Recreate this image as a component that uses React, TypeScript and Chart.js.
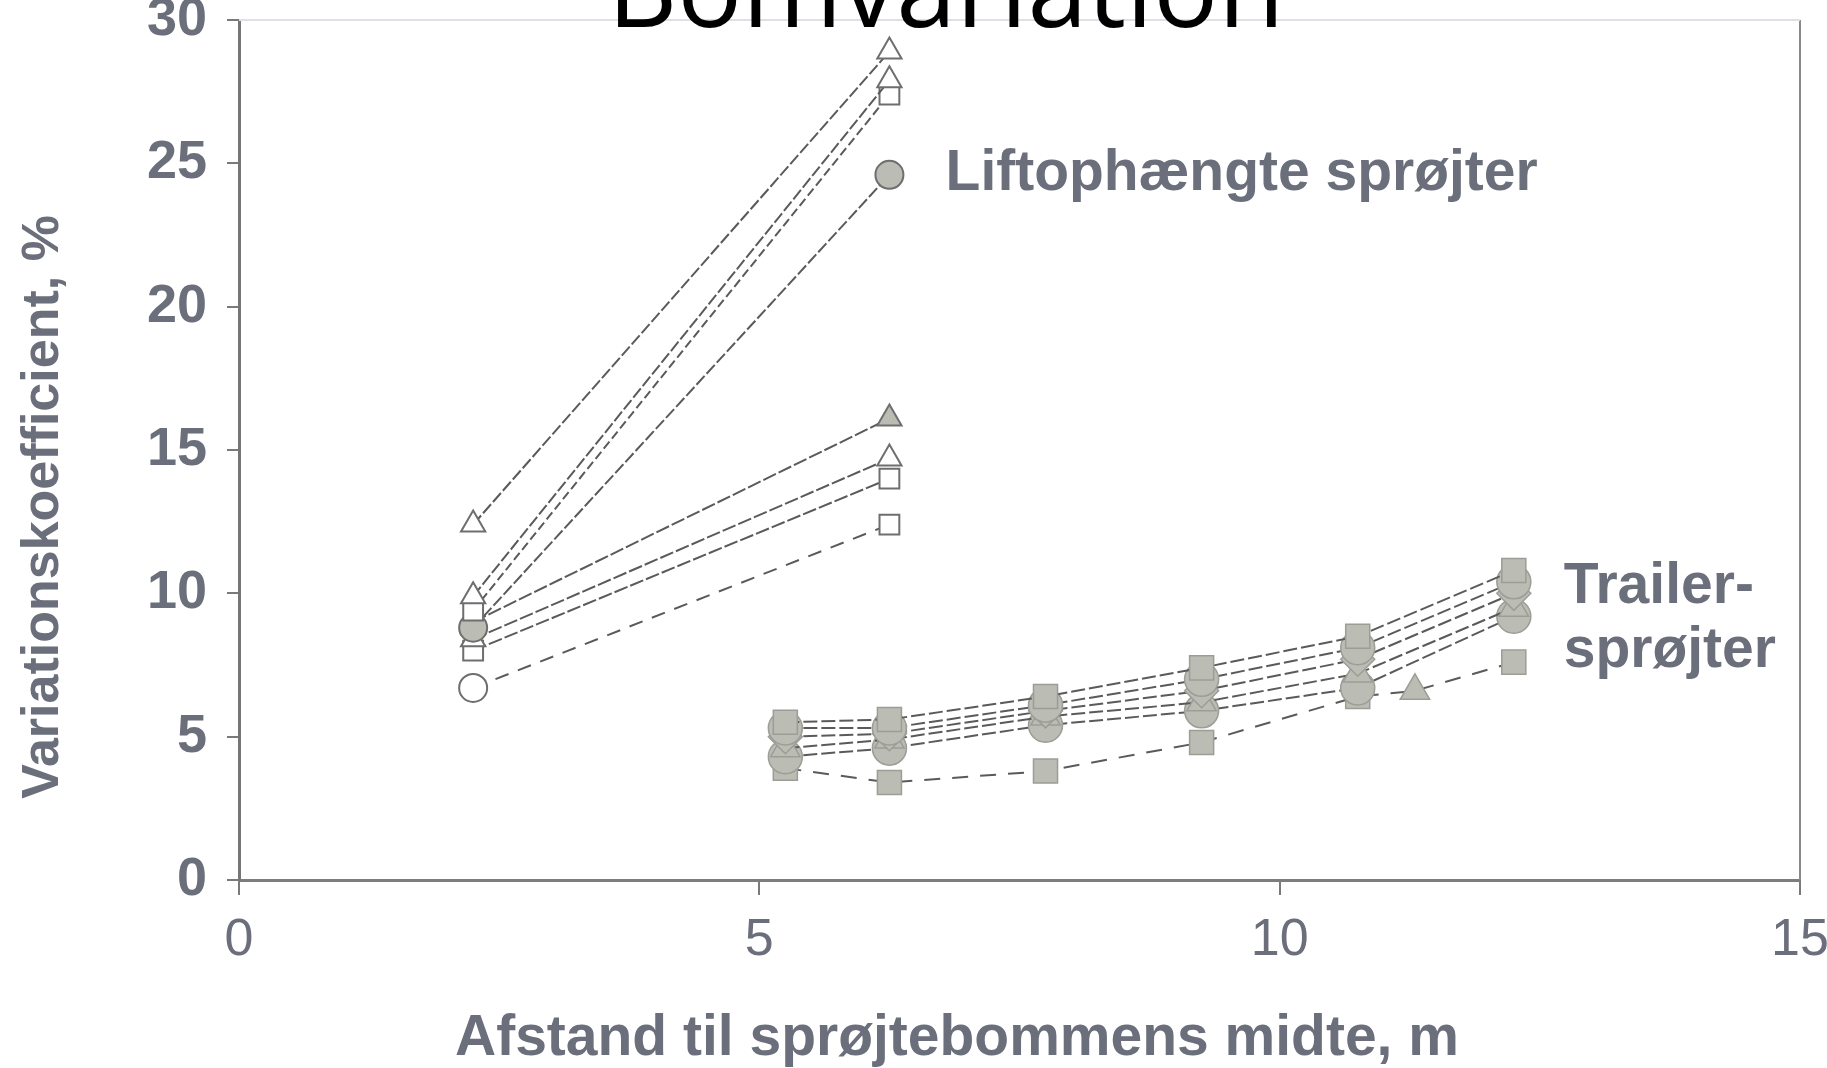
import React, { useEffect, useRef } from "react";
import { Chart, registerables } from "chart.js";

Chart.register(...registerables);

// ---- text ----
const TITLE = "Bomvariation";
const X_TITLE = "Afstand til sprøjtebommens midte, m";
const Y_TITLE = "Variationskoefficient, %";
const LIFT_LABEL = "Liftophængte sprøjter";
const TRAILER_LABEL = ["Trailer-", "sprøjter"];

// ---- axes ----
const xTicks = [0, 5, 10, 15];
const yTicks = [0, 5, 10, 15, 20, 25, 30];

// ---- lift-mounted sprayers (two positions each) ----
const liftX = [2.25, 6.25];
const liftA = [12.4, 28.9];
const liftB = [9.9, 27.9];
const liftC = [9.4, 27.4];
const liftD = [8.8, 24.6];
const liftE = [9.0, 16.1];
const liftF = [8.4, 14.7];
const liftG = [8.0, 14.0];
const liftH = [6.7, 12.4];

// ---- trailer sprayers ----
const trailerX = [5.25, 6.25, 7.75, 9.25, 10.75, 12.25];
const trailer1 = [5.5, 5.6, 6.4, 7.4, 8.5, 10.8];
const trailer2 = [5.3, 5.3, 6.1, 7.0, 8.1, 10.4];
const trailer3 = [5.0, 5.1, 5.9, 6.6, 7.7, 10.0];
const trailer4 = [4.6, 4.9, 5.7, 6.2, 7.2, 9.5];
const trailer5 = [4.3, 4.6, 5.4, 5.9, 6.7, 9.2];
const trailerLowX = [5.25, 6.25, 7.75, 9.25, 10.75, 11.3, 12.25];
const trailerLow = [3.9, 3.4, 3.8, 4.8, 6.4, 6.6, 7.6];

// ---- label anchors (data units) ----
const liftLabelAt = { x: 6.79, y: 24.07 };
const trailerLabelAt = { x: 12.73, y1: 9.66, y2: 7.43 };

const TEXT_GRAY = "#6b6f7b";
const LINE_GRAY = "#5a5a5a";
const FILL_GRAY = "#bbbcb4";

function pts(xs: number[], ys: number[]) {
  return xs.map((x, i) => ({ x, y: ys[i] }));
}

function liftSet(ys: number[], style: any, filled: boolean, dash: number[]) {
  return {
    data: pts(liftX, ys),
    borderColor: LINE_GRAY,
    borderWidth: 2,
    borderDash: dash,
    pointStyle: style,
    pointRadius: 14,
    pointBorderWidth: 2,
    pointBorderColor: "#6e6e6e",
    pointBackgroundColor: filled ? FILL_GRAY : "#ffffff",
    fill: false,
    tension: 0,
  };
}

function trailerSet(xs: number[], ys: number[], style: any, dash: number[]) {
  return {
    data: pts(xs, ys),
    borderColor: LINE_GRAY,
    borderWidth: 2,
    borderDash: dash,
    pointStyle: style,
    pointRadius: 17,
    pointBorderWidth: 1.5,
    pointBorderColor: "#9c9d97",
    pointBackgroundColor: FILL_GRAY,
    fill: false,
    tension: 0,
  };
}

const overlay = {
  id: "overlay",
  afterDraw(chart: any) {
    const { ctx, chartArea, scales } = chart;
    const xs = scales.x;
    const ys = scales.y;
    ctx.save();
    // frame remnants
    ctx.strokeStyle = "#8a8a8a";
    ctx.lineWidth = 2;
    ctx.beginPath();
    ctx.moveTo(chartArea.right, chartArea.top);
    ctx.lineTo(chartArea.right, chartArea.bottom);
    ctx.stroke();
    ctx.strokeStyle = "#dde1e7";
    ctx.lineWidth = 2;
    ctx.beginPath();
    ctx.moveTo(chartArea.left, chartArea.top);
    ctx.lineTo(chartArea.right, chartArea.top);
    ctx.stroke();

    // title (cut at top)
    ctx.fillStyle = "#000000";
    ctx.font = "108px 'Open Sans'";
    ctx.textAlign = "center";
    ctx.textBaseline = "alphabetic";
    ctx.fillText(TITLE, 946, 27);

    ctx.fillStyle = TEXT_GRAY;
    // in-plot labels
    ctx.font = "bold 57px 'Liberation Sans'";
    ctx.textAlign = "left";
    ctx.fillText(LIFT_LABEL, xs.getPixelForValue(liftLabelAt.x), ys.getPixelForValue(liftLabelAt.y));
    ctx.fillText(TRAILER_LABEL[0], xs.getPixelForValue(trailerLabelAt.x), ys.getPixelForValue(trailerLabelAt.y1));
    ctx.fillText(TRAILER_LABEL[1], xs.getPixelForValue(trailerLabelAt.x), ys.getPixelForValue(trailerLabelAt.y2));

    // axis titles
    ctx.font = "bold 57px 'Liberation Sans'";
    ctx.textAlign = "center";
    ctx.fillText(X_TITLE, 957, 1055);
    ctx.font = "bold 52px 'Liberation Sans'";
    ctx.translate(58, 507);
    ctx.rotate(-Math.PI / 2);
    ctx.textBaseline = "alphabetic";
    ctx.fillText(Y_TITLE, 0, 0);
    ctx.restore();
  },
};

export default function App() {
  const ref = useRef<HTMLCanvasElement | null>(null);
  useEffect(() => {
    if (!ref.current) return;
    const chart = new Chart(ref.current, {
      type: "line",
      data: {
        datasets: [
          liftSet(liftA, "triangle", false, [12, 3]),
          liftSet(liftB, "triangle", false, [12, 3]),
          liftSet(liftC, "rect", false, [9, 4]),
          liftSet(liftD, "circle", true, [12, 3]),
          liftSet(liftE, "triangle", true, [14, 3]),
          liftSet(liftF, "triangle", false, [14, 3]),
          liftSet(liftG, "rect", false, [14, 3]),
          liftSet(liftH, ["circle", "rect"], false, [14, 10]),
          trailerSet(trailerX, trailer1, "rect", [14, 4]),
          trailerSet(trailerX, trailer2, "circle", [14, 4]),
          trailerSet(trailerX, trailer3, "rectRot", [14, 4]),
          trailerSet(trailerX, trailer4, "triangle", [14, 4]),
          trailerSet(trailerX, trailer5, "circle", [14, 4]),
          trailerSet(trailerLowX, trailerLow, ["rect", "rect", "rect", "rect", "rect", "triangle", "rect"], [16, 12]),
        ] as any,
      },
      options: {
        animation: false,
        responsive: true,
        maintainAspectRatio: false,
        layout: { padding: { top: 20, right: 27, bottom: 0, left: 0 } },
        plugins: { legend: { display: false }, tooltip: { enabled: false }, title: { display: false } },
        scales: {
          x: {
            type: "linear",
            min: 0,
            max: 15,
            afterBuildTicks: (s: any) => {
              s.ticks = xTicks.map((v) => ({ value: v }));
            },
            afterFit: (s: any) => {
              s.height = 1068 - 880;
              s.paddingLeft = 0;
              s.paddingRight = 0;
            },
            grid: { drawOnChartArea: false, drawTicks: true, tickLength: 15, color: "#7a7a7a", lineWidth: 2 },
            border: { display: true, color: "#7d7d7d", width: 3 },
            ticks: {
              color: TEXT_GRAY,
              padding: 14,
              font: { family: "'Liberation Sans'", size: 52, weight: "normal" },
              maxRotation: 0,
            },
          },
          y: {
            type: "linear",
            min: 0,
            max: 30,
            afterBuildTicks: (s: any) => {
              s.ticks = yTicks.map((v) => ({ value: v }));
            },
            afterFit: (s: any) => {
              s.width = 239;
              s.paddingTop = 0;
              s.paddingBottom = 0;
            },
            grid: { drawOnChartArea: false, drawTicks: true, tickLength: 12, color: "#7a7a7a", lineWidth: 2 },
            border: { display: true, color: "#767676", width: 3 },
            ticks: {
              color: TEXT_GRAY,
              padding: 20,
              font: { family: "'Liberation Sans'", size: 54, weight: "bold" },
            },
          },
        },
      },
      plugins: [overlay],
    });
    return () => chart.destroy();
  }, []);
  return (
    <div style={{ position: "absolute", left: 0, top: 0, width: 1827, height: 1068, background: "#ffffff" }}>
      <canvas ref={ref} />
    </div>
  );
}
